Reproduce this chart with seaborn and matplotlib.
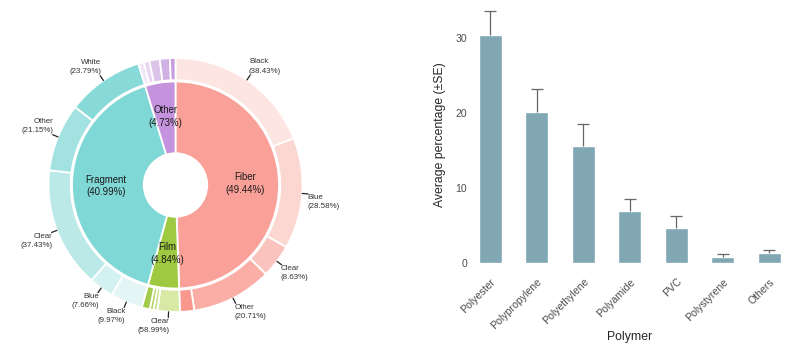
import numpy as np
import pandas as pd
import matplotlib
matplotlib.use("Agg")
import matplotlib.pyplot as plt
import seaborn as sns

# ---- particle shape / colour composition (percent) ----
shapes = ["Fiber", "Film", "Fragment", "Other"]
shape_pct = [49.44, 4.84, 40.99, 4.73]

fiber_colours = ["Black", "Blue", "Clear", "Other", None]
fiber_pct = [38.43, 28.58, 8.63, 20.71, 3.65]
film_colours = ["Clear", None, None, None]
film_pct = [58.99, 10.0, 10.0, 21.01]
fragment_colours = ["Black", "Blue", "Clear", "Other", "White"]
fragment_pct = [9.97, 7.66, 37.43, 21.15, 23.79]
other_colours = [None, None, None, None, None]
other_pct = [15.0, 15.0, 28.0, 27.0, 15.0]

# ---- polymer composition ----
polymers = ["Polyester", "Polypropylene", "Polyethylene", "Polyamide",
            "PVC", "Polystyrene", "Others"]
polymer_mean = [30.44, 20.22, 15.64, 6.98, 4.76, 0.80, 1.33]
polymer_se = [3.25, 2.98, 2.93, 1.60, 1.51, 0.49, 0.49]

inner_cols = ["#f9a098", "#9fc940", "#80d8d6", "#c593de"]
outer_cols = [
    ["#fde5e2", "#fcd6d1", "#fbc3bd", "#faaea6", "#f8978e"],
    ["#d8e9a6", "#c7df88", "#b7d66d", "#a3cb4b"],
    ["#e3f6f5", "#d2f1f0", "#bae9e8", "#a2e2e1", "#87dad8"],
    ["#f1e6f7", "#e7d5f1", "#dcc3ea", "#d1b1e4", "#c69ee0"],
]

sns.set_style("white")
plt.rcParams["font.family"] = ["Liberation Sans", "DejaVu Sans"]

W, H = 800, 348
fig = plt.figure(figsize=(W / 100, H / 100), dpi=100)

# ---------------- nested donut ----------------
R_px = 127.0
cx, cy = 175.5, H - 185.0
lim = 1.4
side = 2 * lim * R_px
ax1 = fig.add_axes([(cx - side / 2) / W, (cy - side / 2) / H, side / W, side / H])
ax1.set_xlim(-lim, lim)
ax1.set_ylim(-lim, lim)
ax1.set_aspect("equal")
ax1.axis("off")

sub_pct = [fiber_pct, film_pct, fragment_pct, other_pct]
sub_lab = [fiber_colours, film_colours, fragment_colours, other_colours]

outer_vals, outer_c, outer_l = [], [], []
for i, s in enumerate(shape_pct):
    for v, c, l in zip(sub_pct[i], outer_cols[i], sub_lab[i]):
        outer_vals.append(s * v / 100.0)
        outer_c.append(c)
        outer_l.append(None if l is None else f"{l}\n({v:.2f}%)")

wp = dict(edgecolor="white", linewidth=1.3)
ax1.pie(shape_pct, radius=0.815, startangle=90, counterclock=False,
        colors=inner_cols, wedgeprops=dict(width=0.565, **wp))
ax1.pie(outer_vals, radius=1.0, startangle=90, counterclock=False,
        colors=outer_c, wedgeprops=dict(width=0.175, **wp))
ax1.set_xlim(-lim, lim)
ax1.set_ylim(-lim, lim)

# inner labels
cum = 0.0
for name, v in zip(shapes, shape_pct):
    mid = np.deg2rad(90 - (cum + v / 2) * 3.6)
    r = 0.545
    ax1.text(r * np.cos(mid), r * np.sin(mid), f"{name}\n({v:.2f}%)",
             ha="center", va="center", fontsize=6.9, color="#1a1a1a",
             linespacing=1.35)
    cum += v

# outer labels with short leader lines
cum = 0.0
for v, lab in zip(outer_vals, outer_l):
    mid = np.deg2rad(90 - (cum + v / 2) * 3.6)
    cum += v
    if lab is None:
        continue
    c, s = np.cos(mid), np.sin(mid)
    ax1.plot([1.0 * c, 1.045 * c], [1.0 * s, 1.045 * s], color="#222222", lw=0.9)
    tx, ty = 1.05 * c, 1.05 * s
    ax1.text(tx - (0.012 if c > 0 else -0.012), ty, lab,
             ha="left" if c > 0 else "right",
             va="bottom" if s > 0 else "top",
             fontsize=5.7, color="#333333", linespacing=1.45)

# ---------------- polymer bar chart ----------------
ax2 = fig.add_axes([474 / W, 1 - 265.5 / H, 311.5 / W, (265.5 - 4.5) / H])
df = pd.DataFrame({"Polymer": polymers, "Mean": polymer_mean, "SE": polymer_se})
sns.barplot(data=df, x="Polymer", y="Mean", color="#80a7b3", saturation=1,
            width=0.49, errorbar=None, ax=ax2)
x = np.arange(len(polymers))
top = df["Mean"] + df["SE"]
# upper-only error bars: stem from the bar top, cap at mean + SE
ax2.vlines(x, df["Mean"], top, color="#666666", lw=0.9, zorder=3)
ax2.plot(x, top, ls="none", marker="_", ms=9, mew=0.9, color="#666666", zorder=3)
ax2.set_xlim(-0.35, 6.35)
ax2.set_ylim(-0.3, 34.5)
ax2.set_yticks([0, 10, 20, 30])
sns.despine(ax=ax2, left=True, bottom=True)
ax2.tick_params(axis="both", length=0, labelsize=7.6, labelcolor="#4d4d4d")
ax2.tick_params(axis="y", pad=5)
ax2.tick_params(axis="x", pad=8)
plt.setp(ax2.get_xticklabels(), rotation=45, ha="right", va="top",
         rotation_mode="anchor")
ax2.set_ylabel("Average percentage (\u00b1SE)", fontsize=8.8, labelpad=7)
ax2.set_xlabel("Polymer", fontsize=8.8, labelpad=0)

fig.savefig("out.png", dpi=100, facecolor="white")
